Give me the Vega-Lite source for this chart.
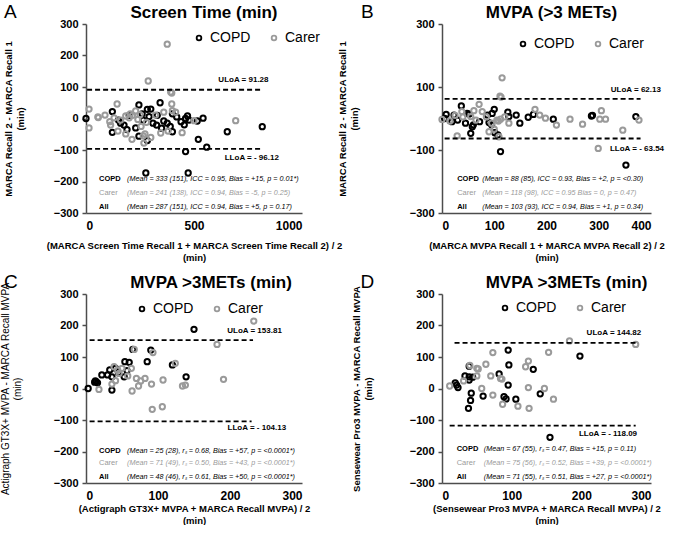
{
  "$schema": "https://vega.github.io/schema/vega-lite/v6.json",
  "padding": {"left": 0, "top": 3, "right": 0, "bottom": 0},
  "bounds": "flush",
  "columns": 2,
  "spacing": {"row": 81, "column": 140},
  "resolve": {"legend": {"color": "independent"}},
  "datasets": {
    "A": [
      {"g":"COPD","m":0,"d":0},{"g":"COPD","m":245,"d":43},{"g":"COPD","m":343,"d":50},{"g":"COPD","m":300,"d":30},{"g":"COPD","m":284,"d":29},
      {"g":"COPD","m":122,"d":22},{"g":"COPD","m":122,"d":-44},{"g":"COPD","m":176,"d":-21},{"g":"COPD","m":245,"d":-56},{"g":"COPD","m":284,"d":-70},
      {"g":"COPD","m":327,"d":-21},{"g":"COPD","m":350,"d":-31},{"g":"COPD","m":376,"d":-15},{"g":"COPD","m":400,"d":-42},{"g":"COPD","m":461,"d":0},
      {"g":"COPD","m":477,"d":-5},{"g":"COPD","m":542,"d":1},{"g":"COPD","m":520,"d":-66},{"g":"COPD","m":559,"d":-91},{"g":"COPD","m":461,"d":-105},
      {"g":"COPD","m":654,"d":-42},{"g":"COPD","m":816,"d":-26},{"g":"COPD","m":292,"d":6},{"g":"COPD","m":277,"d":-173},{"g":"COPD","m":473,"d":-173},
      {"g":"COPD","m":150,"d":-5},{"g":"COPD","m":200,"d":10},{"g":"COPD","m":260,"d":15},{"g":"COPD","m":330,"d":10},{"g":"COPD","m":360,"d":-8},
      {"g":"COPD","m":390,"d":-25},{"g":"COPD","m":420,"d":5},{"g":"COPD","m":440,"d":-10},{"g":"COPD","m":455,"d":-20},{"g":"COPD","m":230,"d":-30},
      {"g":"COPD","m":265,"d":-5},{"g":"COPD","m":190,"d":-35},{"g":"COPD","m":160,"d":-15},{"g":"COPD","m":310,"d":-15},{"g":"COPD","m":400,"d":15},
      {"g":"COPD","m":470,"d":8},{"g":"COPD","m":515,"d":-8},
      {"g":"Carer","m":376,"d":236},{"g":"Carer","m":288,"d":119},{"g":"Carer","m":397,"d":81},{"g":"Carer","m":392,"d":84},{"g":"Carer","m":14,"d":30},
      {"g":"Carer","m":14,"d":-30},{"g":"Carer","m":55,"d":5},{"g":"Carer","m":57,"d":3},{"g":"Carer","m":88,"d":11},{"g":"Carer","m":144,"d":46},
      {"g":"Carer","m":114,"d":-21},{"g":"Carer","m":148,"d":-40},{"g":"Carer","m":184,"d":-49},{"g":"Carer","m":213,"d":-66},{"g":"Carer","m":268,"d":-78},
      {"g":"Carer","m":273,"d":-49},{"g":"Carer","m":346,"d":-46},{"g":"Carer","m":445,"d":-45},{"g":"Carer","m":500,"d":-7},{"g":"Carer","m":693,"d":-7},
      {"g":"Carer","m":397,"d":46},{"g":"Carer","m":415,"d":20},{"g":"Carer","m":322,"d":11},{"g":"Carer","m":160,"d":-5},{"g":"Carer","m":184,"d":8},
      {"g":"Carer","m":200,"d":2},{"g":"Carer","m":215,"d":10},{"g":"Carer","m":230,"d":24},{"g":"Carer","m":240,"d":-3},{"g":"Carer","m":250,"d":12},
      {"g":"Carer","m":205,"d":15},{"g":"Carer","m":110,"d":-10},{"g":"Carer","m":130,"d":2},{"g":"Carer","m":280,"d":-12},{"g":"Carer","m":255,"d":-25},
      {"g":"Carer","m":360,"d":20},{"g":"Carer","m":380,"d":-40},{"g":"Carer","m":300,"d":-60},{"g":"Carer","m":265,"d":-55},{"g":"Carer","m":400,"d":25}
    ],
    "B": [
      {"g":"COPD","m":8,"d":13},{"g":"COPD","m":23,"d":11},{"g":"COPD","m":19,"d":-10},{"g":"COPD","m":37,"d":40},{"g":"COPD","m":48,"d":16},
      {"g":"COPD","m":52,"d":14},{"g":"COPD","m":55,"d":-47},{"g":"COPD","m":58,"d":-26},{"g":"COPD","m":72,"d":-10},{"g":"COPD","m":87,"d":11},
      {"g":"COPD","m":90,"d":-13},{"g":"COPD","m":100,"d":29},{"g":"COPD","m":96,"d":16},{"g":"COPD","m":101,"d":-45},{"g":"COPD","m":112,"d":-105},
      {"g":"COPD","m":126,"d":20},{"g":"COPD","m":128,"d":6},{"g":"COPD","m":142,"d":11},{"g":"COPD","m":149,"d":-15},{"g":"COPD","m":165,"d":4},
      {"g":"COPD","m":175,"d":13},{"g":"COPD","m":213,"d":-2},{"g":"COPD","m":286,"d":8},{"g":"COPD","m":288,"d":10},{"g":"COPD","m":371,"d":6},
      {"g":"COPD","m":352,"d":-148},{"g":"COPD","m":5,"d":0},{"g":"COPD","m":30,"d":-5},{"g":"COPD","m":95,"d":-20},{"g":"COPD","m":107,"d":-52},
      {"g":"COPD","m":60,"d":-20},{"g":"COPD","m":45,"d":-15},
      {"g":"Carer","m":111,"d":71},{"g":"Carer","m":113,"d":68},{"g":"Carer","m":115,"d":129},{"g":"Carer","m":71,"d":45},{"g":"Carer","m":61,"d":25},
      {"g":"Carer","m":29,"d":-55},{"g":"Carer","m":0,"d":-3},{"g":"Carer","m":38,"d":22},{"g":"Carer","m":40,"d":5},{"g":"Carer","m":55,"d":6},
      {"g":"Carer","m":77,"d":22},{"g":"Carer","m":90,"d":-42},{"g":"Carer","m":100,"d":-34},{"g":"Carer","m":109,"d":-58},{"g":"Carer","m":105,"d":-5},
      {"g":"Carer","m":108,"d":-8},{"g":"Carer","m":112,"d":-2},{"g":"Carer","m":128,"d":-15},{"g":"Carer","m":178,"d":29},{"g":"Carer","m":187,"d":11},
      {"g":"Carer","m":198,"d":1},{"g":"Carer","m":219,"d":-21},{"g":"Carer","m":245,"d":-2},{"g":"Carer","m":269,"d":-18},{"g":"Carer","m":305,"d":25},
      {"g":"Carer","m":302,"d":-2},{"g":"Carer","m":313,"d":-2},{"g":"Carer","m":346,"d":-37},{"g":"Carer","m":377,"d":-5},{"g":"Carer","m":299,"d":-95},
      {"g":"Carer","m":15,"d":-8},{"g":"Carer","m":25,"d":10},{"g":"Carer","m":65,"d":-5},{"g":"Carer","m":85,"d":5},{"g":"Carer","m":120,"d":5},
      {"g":"Carer","m":95,"d":-15}
    ],
    "C": [
      {"g":"COPD","m":3,"d":0},{"g":"COPD","m":12,"d":20},{"g":"COPD","m":14,"d":22},{"g":"COPD","m":16,"d":18},{"g":"COPD","m":13,"d":24},
      {"g":"COPD","m":22,"d":43},{"g":"COPD","m":30,"d":43},{"g":"COPD","m":33,"d":59},{"g":"COPD","m":36,"d":37},{"g":"COPD","m":41,"d":64},
      {"g":"COPD","m":36,"d":-5},{"g":"COPD","m":53,"d":37},{"g":"COPD","m":54,"d":85},{"g":"COPD","m":60,"d":83},{"g":"COPD","m":57,"d":57},
      {"g":"COPD","m":85,"d":85},{"g":"COPD","m":90,"d":122},{"g":"COPD","m":65,"d":124},{"g":"COPD","m":120,"d":75},{"g":"COPD","m":139,"d":37},
      {"g":"COPD","m":150,"d":188},{"g":"COPD","m":45,"d":50},
      {"g":"Carer","m":18,"d":-3},{"g":"Carer","m":36,"d":14},{"g":"Carer","m":39,"d":69},{"g":"Carer","m":41,"d":25},{"g":"Carer","m":46,"d":48},
      {"g":"Carer","m":50,"d":64},{"g":"Carer","m":63,"d":64},{"g":"Carer","m":64,"d":-8},{"g":"Carer","m":67,"d":124},{"g":"Carer","m":70,"d":32},
      {"g":"Carer","m":73,"d":8},{"g":"Carer","m":76,"d":24},{"g":"Carer","m":82,"d":32},{"g":"Carer","m":91,"d":14},{"g":"Carer","m":92,"d":-66},
      {"g":"Carer","m":93,"d":114},{"g":"Carer","m":106,"d":-58},{"g":"Carer","m":107,"d":27},{"g":"Carer","m":124,"d":80},{"g":"Carer","m":134,"d":8},
      {"g":"Carer","m":138,"d":11},{"g":"Carer","m":182,"d":140},{"g":"Carer","m":191,"d":29},{"g":"Carer","m":233,"d":214},{"g":"Carer","m":44,"d":58},
      {"g":"Carer","m":58,"d":40}
    ],
    "D": [
      {"g":"COPD","m":19,"d":18},{"g":"COPD","m":21,"d":11},{"g":"COPD","m":23,"d":3},{"g":"COPD","m":33,"d":40},{"g":"COPD","m":39,"d":37},
      {"g":"COPD","m":39,"d":27},{"g":"COPD","m":44,"d":36},{"g":"COPD","m":42,"d":-15},{"g":"COPD","m":41,"d":-38},{"g":"COPD","m":38,"d":-63},
      {"g":"COPD","m":59,"d":-24},{"g":"COPD","m":82,"d":46},{"g":"COPD","m":89,"d":-26},{"g":"COPD","m":92,"d":-33},{"g":"COPD","m":95,"d":122},
      {"g":"COPD","m":96,"d":75},{"g":"COPD","m":95,"d":11},{"g":"COPD","m":106,"d":-34},{"g":"COPD","m":131,"d":61},{"g":"COPD","m":141,"d":-17},
      {"g":"COPD","m":198,"d":103},{"g":"COPD","m":155,"d":-155},{"g":"COPD","m":39,"d":71},
      {"g":"Carer","m":11,"d":8},{"g":"Carer","m":31,"d":24},{"g":"Carer","m":40,"d":73},{"g":"Carer","m":50,"d":64},{"g":"Carer","m":52,"d":62},
      {"g":"Carer","m":50,"d":40},{"g":"Carer","m":57,"d":0},{"g":"Carer","m":63,"d":77},{"g":"Carer","m":70,"d":40},{"g":"Carer","m":73,"d":114},
      {"g":"Carer","m":73,"d":-21},{"g":"Carer","m":84,"d":32},{"g":"Carer","m":86,"d":30},{"g":"Carer","m":87,"d":-50},{"g":"Carer","m":109,"d":-56},
      {"g":"Carer","m":120,"d":69},{"g":"Carer","m":124,"d":87},{"g":"Carer","m":124,"d":3},{"g":"Carer","m":125,"d":-63},{"g":"Carer","m":147,"d":0},
      {"g":"Carer","m":153,"d":115},{"g":"Carer","m":160,"d":-34},{"g":"Carer","m":183,"d":151},{"g":"Carer","m":278,"d":140}
    ]
  },
  "concat": [
    {
      "width": 216, "height": 189,
      "title": {"text": "Screen Time (min)", "dx": 10, "baseline": "alphabetic", "offset": -32},
      "layer": [
        {"data": {"name": "A"},
         "mark": {"type": "point", "filled": false, "strokeWidth": 2, "size": 28, "opacity": 1},
         "encoding": {
           "x": {"field": "m", "type": "quantitative", "scale": {"domain": [0, 1000], "nice": false},
                 "axis": {"values": [0, 500, 1000], "format": "d", "title": ["(MARCA Screen Time Recall 1 + MARCA Screen Time Recall 2) / 2", "(min)"], "titlePadding": 9}},
           "y": {"field": "d", "type": "quantitative", "scale": {"domain": [-300, 300], "nice": false},
                 "axis": {"tickCount": 6, "title": ["MARCA Recall 2 - MARCA Recall 1", "(min)"], "titlePadding": 28}},
           "color": {"field": "g", "type": "nominal", "scale": {"domain": ["COPD", "Carer"], "range": ["#000000", "#9a9a9a"]},
                     "legend": {"legendX": 106, "legendY": 7}}
         }},
        {"data": {"values": [{"lim": 91.28, "x1": 5, "x2": 815}, {"lim": -96.12, "x1": 5, "x2": 815}]},
         "mark": {"type": "rule", "strokeDash": [5, 3], "strokeWidth": 1.8, "color": "#000"},
         "encoding": {"x": {"field": "x1", "type": "quantitative"}, "x2": {"field": "x2"}, "y": {"field": "lim", "type": "quantitative"}}},
        {"data": {"values": [{"t": "ULoA = 91.28", "x": 845, "y": 122}, {"t": "LLoA = - 96.12", "x": 893, "y": -125}]},
         "mark": {"type": "text", "align": "right", "baseline": "middle", "fontSize": 8, "fontWeight": "bold", "color": "#000"},
         "encoding": {"x": {"field": "x", "type": "quantitative"}, "y": {"field": "y", "type": "quantitative"}, "text": {"field": "t"}}},
        {"data": {"values": [
           {"g": "COPD", "s": "(Mean = 333 (151), ICC = 0.95, Bias = +15, p = 0.01*)", "y": -192},
           {"g": "Carer", "s": "(Mean = 241 (138), ICC = 0.94, Bias =  -5,   p = 0.25)", "y": -237},
           {"g": "All", "s": "(Mean = 287 (151), ICC = 0.94, Bias = +5,  p = 0.17)", "y": -281}]},
         "layer": [
           {"transform": [{"filter": "datum.g !== 'Carer'"}],
            "mark": {"type": "text", "align": "left", "baseline": "middle", "fontSize": 7.5, "fontWeight": "bold", "color": "#000"},
            "encoding": {"x": {"datum": 60, "type": "quantitative"}, "y": {"field": "y", "type": "quantitative"}, "text": {"field": "g"}}},
           {"transform": [{"filter": "datum.g === 'Carer'"}],
            "mark": {"type": "text", "align": "left", "baseline": "middle", "fontSize": 7.5, "color": "#9a9a9a"},
            "encoding": {"x": {"datum": 60, "type": "quantitative"}, "y": {"field": "y", "type": "quantitative"}, "text": {"field": "g"}}},
           {"mark": {"type": "text", "align": "left", "baseline": "middle", "fontSize": 7.2, "fontStyle": "italic"},
            "encoding": {"x": {"datum": 190, "type": "quantitative"}, "y": {"field": "y", "type": "quantitative"}, "text": {"field": "s"},
                         "color": {"condition": {"test": "datum.g === 'Carer'", "value": "#9a9a9a"}, "value": "#000"}}}
         ]},
        {"data": {"values": [{"lx": -380, "ly": 319, "t": "A"}]},
         "mark": {"type": "text", "align": "left", "baseline": "alphabetic", "fontSize": 19, "color": "#000"},
         "encoding": {"x": {"field": "lx", "type": "quantitative"}, "y": {"field": "ly", "type": "quantitative"}, "text": {"field": "t"}}}
      ]
    },
    {
      "width": 209, "height": 189,
      "title": {"text": "MVPA (>3 METs)", "dx": 5, "baseline": "alphabetic", "offset": -32},
      "layer": [
        {"data": {"name": "B"},
         "mark": {"type": "point", "filled": false, "strokeWidth": 2, "size": 28, "opacity": 1},
         "encoding": {
           "x": {"field": "m", "type": "quantitative", "scale": {"domain": [0, 400], "nice": false},
                 "axis": {"values": [0, 100, 200, 300, 400], "title": ["(MARCA MVPA Recall 1 + MARCA MVPA Recall 2) / 2", "(min)"], "titlePadding": 9}},
           "y": {"field": "d", "type": "quantitative", "scale": {"domain": [-300, 300], "nice": false},
                 "axis": {"values": [-300, -200, -100, 0, 100, 200, 300], "title": ["MARCA Recall 2 - MARCA Recall 1", "(min)"], "titlePadding": 50}},
           "color": {"field": "g", "type": "nominal", "scale": {"domain": ["COPD", "Carer"], "range": ["#000000", "#9a9a9a"]},
                     "legend": {"legendX": 74, "legendY": 13}}
         }},
        {"data": {"values": [{"lim": 62.13, "x1": 5, "x2": 380}, {"lim": -63.54, "x1": 5, "x2": 380}]},
         "mark": {"type": "rule", "strokeDash": [5, 3], "strokeWidth": 1.8, "color": "#000"},
         "encoding": {"x": {"field": "x1", "type": "quantitative"}, "x2": {"field": "x2"}, "y": {"field": "lim", "type": "quantitative"}}},
        {"data": {"values": [{"t": "ULoA = 62.13", "x": 419, "y": 90}, {"t": "LLoA = - 63.54", "x": 425, "y": -97}]},
         "mark": {"type": "text", "align": "right", "baseline": "middle", "fontSize": 8, "fontWeight": "bold", "color": "#000"},
         "encoding": {"x": {"field": "x", "type": "quantitative"}, "y": {"field": "y", "type": "quantitative"}, "text": {"field": "t"}}},
        {"data": {"values": [
           {"g": "COPD", "s": "(Mean = 88 (85),   ICC = 0.93, Bias = +2, p = <0.30)", "y": -192},
           {"g": "Carer", "s": "(Mean = 118 (98), ICC = 0.95  Bias =  0, p = 0.47)", "y": -237},
           {"g": "All", "s": "(Mean = 103 (93), ICC = 0.94, Bias = +1, p = 0.34)", "y": -281}]},
         "layer": [
           {"transform": [{"filter": "datum.g !== 'Carer'"}],
            "mark": {"type": "text", "align": "left", "baseline": "middle", "fontSize": 7.5, "fontWeight": "bold", "color": "#000"},
            "encoding": {"x": {"datum": 29, "type": "quantitative"}, "y": {"field": "y", "type": "quantitative"}, "text": {"field": "g"}}},
           {"transform": [{"filter": "datum.g === 'Carer'"}],
            "mark": {"type": "text", "align": "left", "baseline": "middle", "fontSize": 7.5, "color": "#9a9a9a"},
            "encoding": {"x": {"datum": 29, "type": "quantitative"}, "y": {"field": "y", "type": "quantitative"}, "text": {"field": "g"}}},
           {"mark": {"type": "text", "align": "left", "baseline": "middle", "fontSize": 7.2, "fontStyle": "italic"},
            "encoding": {"x": {"datum": 77, "type": "quantitative"}, "y": {"field": "y", "type": "quantitative"}, "text": {"field": "s"},
                         "color": {"condition": {"test": "datum.g === 'Carer'", "value": "#9a9a9a"}, "value": "#000"}}}
         ]},
        {"data": {"values": [{"lx": -155, "ly": 319, "t": "B"}]},
         "mark": {"type": "text", "align": "left", "baseline": "alphabetic", "fontSize": 19, "color": "#000"},
         "encoding": {"x": {"field": "lx", "type": "quantitative"}, "y": {"field": "ly", "type": "quantitative"}, "text": {"field": "t"}}}
      ]
    },
    {
      "width": 216, "height": 189,
      "title": {"text": "MVPA >3METs (min)", "dx": 17, "baseline": "alphabetic", "offset": -32},
      "layer": [
        {"data": {"name": "C"},
         "mark": {"type": "point", "filled": false, "strokeWidth": 2, "size": 28, "opacity": 1},
         "encoding": {
           "x": {"field": "m", "type": "quantitative", "scale": {"domain": [0, 300], "nice": false},
                 "axis": {"values": [0, 100, 200, 300], "title": ["(Actigraph GT3X+ MVPA + MARCA Recall MVPA) / 2", "(min)"], "titlePadding": 2}},
           "y": {"field": "d", "type": "quantitative", "scale": {"domain": [-300, 300], "nice": false},
                 "axis": {"tickCount": 6, "title": ["Actigraph GT3X+ MVPA - MARCA Recall MVPA", "(min)"], "titlePadding": 31, "titleFontWeight": "normal", "titleFontSize": 10}},
           "color": {"field": "g", "type": "nominal", "scale": {"domain": ["COPD", "Carer"], "range": ["#000000", "#9a9a9a"]},
                     "legend": {"legendX": 49, "legendY": 8}}
         }},
        {"data": {"values": [{"lim": 153.81, "x1": 5, "x2": 232}, {"lim": -104.13, "x1": 5, "x2": 230}]},
         "mark": {"type": "rule", "strokeDash": [5, 3], "strokeWidth": 1.8, "color": "#000"},
         "encoding": {"x": {"field": "x1", "type": "quantitative"}, "x2": {"field": "x2"}, "y": {"field": "lim", "type": "quantitative"}}},
        {"data": {"values": [{"t": "ULoA = 153.81", "x": 272, "y": 183}, {"t": "LLoA = - 104.13", "x": 278, "y": -125}]},
         "mark": {"type": "text", "align": "right", "baseline": "middle", "fontSize": 8, "fontWeight": "bold", "color": "#000"},
         "encoding": {"x": {"field": "x", "type": "quantitative"}, "y": {"field": "y", "type": "quantitative"}, "text": {"field": "t"}}},
        {"data": {"values": [
           {"g": "COPD", "s": "(Mean = 25 (28), rₛ = 0.68, Bias = +57, p = <0.0001*)", "y": -198},
           {"g": "Carer", "s": "(Mean = 71 (49), rₛ = 0.50, Bias = +43, p = <0.0001*)", "y": -238},
           {"g": "All", "s": "(Mean = 48 (46), rₛ = 0.61, Bias = +50, p = <0.0001*)", "y": -281}]},
         "layer": [
           {"transform": [{"filter": "datum.g !== 'Carer'"}],
            "mark": {"type": "text", "align": "left", "baseline": "middle", "fontSize": 7.5, "fontWeight": "bold", "color": "#000"},
            "encoding": {"x": {"datum": 18, "type": "quantitative"}, "y": {"field": "y", "type": "quantitative"}, "text": {"field": "g"}}},
           {"transform": [{"filter": "datum.g === 'Carer'"}],
            "mark": {"type": "text", "align": "left", "baseline": "middle", "fontSize": 7.5, "color": "#9a9a9a"},
            "encoding": {"x": {"datum": 18, "type": "quantitative"}, "y": {"field": "y", "type": "quantitative"}, "text": {"field": "g"}}},
           {"mark": {"type": "text", "align": "left", "baseline": "middle", "fontSize": 7.2, "fontStyle": "italic"},
            "encoding": {"x": {"datum": 57, "type": "quantitative"}, "y": {"field": "y", "type": "quantitative"}, "text": {"field": "s"},
                         "color": {"condition": {"test": "datum.g === 'Carer'", "value": "#9a9a9a"}, "value": "#000"}}}
         ]},
        {"data": {"values": [{"lx": -114, "ly": 319, "t": "C"}]},
         "mark": {"type": "text", "align": "left", "baseline": "alphabetic", "fontSize": 19, "color": "#000"},
         "encoding": {"x": {"field": "lx", "type": "quantitative"}, "y": {"field": "ly", "type": "quantitative"}, "text": {"field": "t"}}}
      ]
    },
    {
      "width": 209, "height": 189,
      "title": {"text": "MVPA >3METs (min)", "dx": 20, "baseline": "alphabetic", "offset": -32},
      "layer": [
        {"data": {"name": "D"},
         "mark": {"type": "point", "filled": false, "strokeWidth": 2, "size": 28, "opacity": 1},
         "encoding": {
           "x": {"field": "m", "type": "quantitative", "scale": {"domain": [0, 300], "nice": false},
                 "axis": {"values": [0, 100, 200, 300], "title": ["(Sensewear  Pro3 MVPA + MARCA Recall MVPA) / 2", "(min)"], "titlePadding": 2}},
           "y": {"field": "d", "type": "quantitative", "scale": {"domain": [-300, 300], "nice": false},
                 "axis": {"tickCount": 6, "title": ["Sensewear Pro3 MVPA - MARCA Recall MVPA", "(min)"], "titlePadding": 36}},
           "color": {"field": "g", "type": "nominal", "scale": {"domain": ["COPD", "Carer"], "range": ["#000000", "#9a9a9a"]},
                     "legend": {"legendX": 56, "legendY": 7}}
         }},
        {"data": {"values": [{"lim": 144.82, "x1": 18, "x2": 278}, {"lim": -118.09, "x1": 11, "x2": 278}]},
         "mark": {"type": "rule", "strokeDash": [5, 3], "strokeWidth": 1.8, "color": "#000"},
         "encoding": {"x": {"field": "x1", "type": "quantitative"}, "x2": {"field": "x2"}, "y": {"field": "lim", "type": "quantitative"}}},
        {"data": {"values": [{"t": "ULoA = 144.82", "x": 286, "y": 176}, {"t": "LLoA = - 118.09", "x": 280, "y": -145}]},
         "mark": {"type": "text", "align": "right", "baseline": "middle", "fontSize": 8, "fontWeight": "bold", "color": "#000"},
         "encoding": {"x": {"field": "x", "type": "quantitative"}, "y": {"field": "y", "type": "quantitative"}, "text": {"field": "t"}}},
        {"data": {"values": [
           {"g": "COPD", "s": "(Mean = 67 (55), rₛ = 0.47, Bias =  +15,  p =  0.11)", "y": -192},
           {"g": "Carer", "s": "(Mean = 75 (56), rₛ = 0.52, Bias =  +39,  p = <0.0001*)", "y": -237},
           {"g": "All", "s": "(Mean = 71 (55), rₛ = 0.51, Bias =  +27,  p = <0.0001*)", "y": -281}]},
         "layer": [
           {"transform": [{"filter": "datum.g !== 'Carer'"}],
            "mark": {"type": "text", "align": "left", "baseline": "middle", "fontSize": 7.5, "fontWeight": "bold", "color": "#000"},
            "encoding": {"x": {"datum": 21, "type": "quantitative"}, "y": {"field": "y", "type": "quantitative"}, "text": {"field": "g"}}},
           {"transform": [{"filter": "datum.g === 'Carer'"}],
            "mark": {"type": "text", "align": "left", "baseline": "middle", "fontSize": 7.5, "color": "#9a9a9a"},
            "encoding": {"x": {"datum": 21, "type": "quantitative"}, "y": {"field": "y", "type": "quantitative"}, "text": {"field": "g"}}},
           {"mark": {"type": "text", "align": "left", "baseline": "middle", "fontSize": 7.2, "fontStyle": "italic"},
            "encoding": {"x": {"datum": 60, "type": "quantitative"}, "y": {"field": "y", "type": "quantitative"}, "text": {"field": "s"},
                         "color": {"condition": {"test": "datum.g === 'Carer'", "value": "#9a9a9a"}, "value": "#000"}}}
         ]},
        {"data": {"values": [{"lx": -117, "ly": 319, "t": "D"}]},
         "mark": {"type": "text", "align": "left", "baseline": "alphabetic", "fontSize": 19, "color": "#000"},
         "encoding": {"x": {"field": "lx", "type": "quantitative"}, "y": {"field": "ly", "type": "quantitative"}, "text": {"field": "t"}}}
      ]
    }
  ],
  "config": {
    "font": "Liberation Sans",
    "background": "#ffffff",
    "view": {"stroke": null},
    "axis": {"grid": false, "domainColor": "#4d4d4d", "domainWidth": 1.5, "tickColor": "#4d4d4d", "tickWidth": 1.5,
             "labelFontWeight": "bold", "labelColor": "#000", "titleColor": "#000", "titleFontWeight": "bold",
             "titleFontSize": 9.5, "titleLineHeight": 12},
    "axisY": {"labelFontSize": 11, "tickSize": 4, "labelPadding": 4},
    "axisX": {"labelFontSize": 12, "ticks": false, "labelPadding": 7},
    "title": {"fontSize": 17, "fontWeight": "bold", "color": "#000", "anchor": "middle"},
    "legend": {"orient": "none", "direction": "horizontal", "title": null, "labelFontSize": 14, "labelColor": "#000",
               "symbolType": "circle", "symbolSize": 22, "symbolStrokeWidth": 1.8, "columnPadding": 16, "labelOffset": 4, "padding": 0}
  }
}
